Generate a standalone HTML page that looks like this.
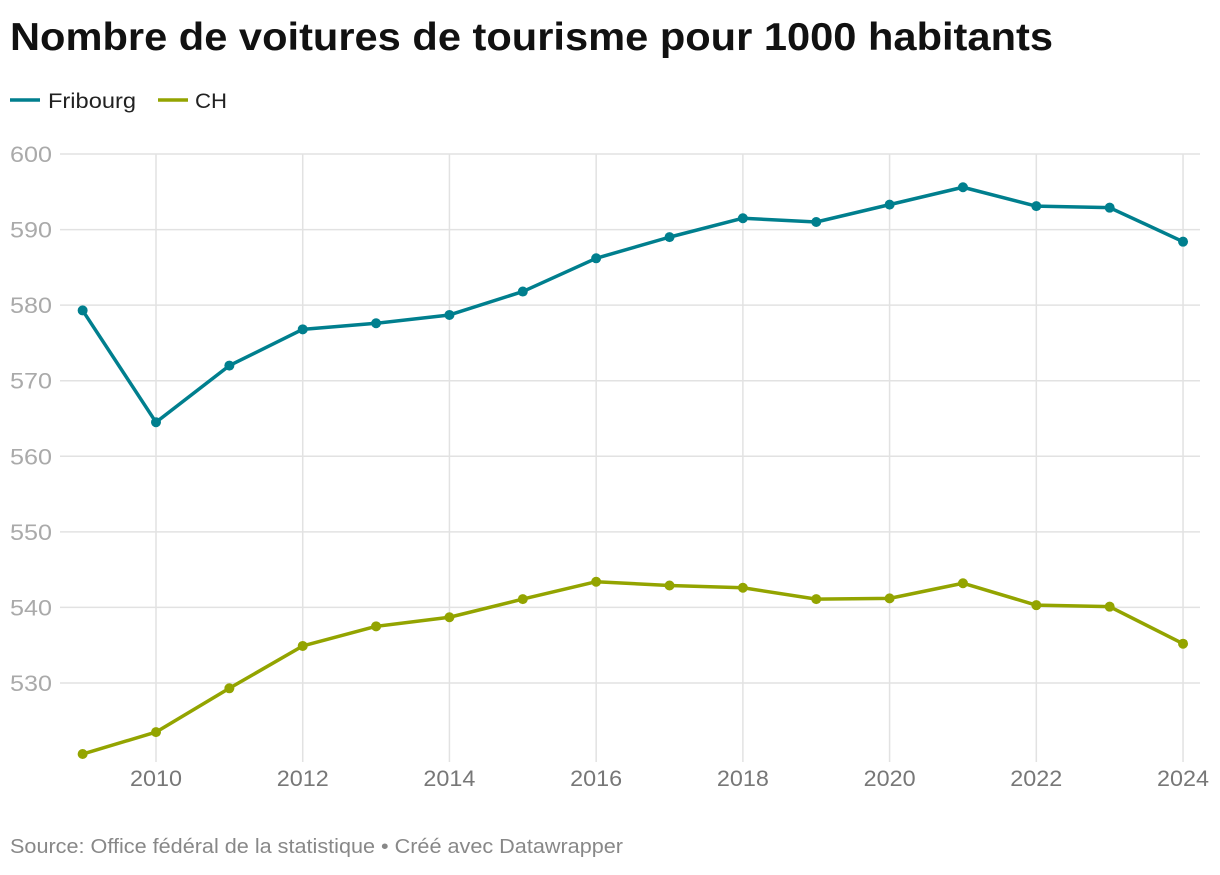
<!DOCTYPE html>
<html><head><meta charset="utf-8"><style>
body{margin:0;background:#fff;font-family:"Liberation Sans",sans-serif;}
svg text{font-family:"Liberation Sans",sans-serif;}
</style></head><body>
<svg id="chart" width="1220" height="870">
<text x="10" y="50" font-size="39" font-weight="bold" fill="#111" textLength="1043" lengthAdjust="spacingAndGlyphs">Nombre de voitures de tourisme pour 1000 habitants</text>
<g>
<g><line x1="10" y1="100" x2="40" y2="100" stroke="#007f8e" stroke-width="3.5"/><text x="48" y="108" font-size="21" fill="#222" textLength="88" lengthAdjust="spacingAndGlyphs">Fribourg</text></g>
<g><line x1="158" y1="100" x2="188" y2="100" stroke="#93a400" stroke-width="3.5"/><text x="195" y="108" font-size="21" fill="#222" textLength="32" lengthAdjust="spacingAndGlyphs">CH</text></g>
</g>
<g id="grid"></g>
<g id="series"></g>
<text x="10" y="853" font-size="20" fill="#888" textLength="613" lengthAdjust="spacingAndGlyphs">Source: Office fédéral de la statistique • Créé avec Datawrapper</text>
</svg>
<script>
const years=[2009,2010,2011,2012,2013,2014,2015,2016,2017,2018,2019,2020,2021,2022,2023,2024];
const fribourg=[579.3,564.5,572.0,576.8,577.6,578.7,581.8,586.2,589.0,591.5,591.0,593.3,595.6,593.1,592.9,588.4];
const ch=[520.6,523.5,529.3,534.9,537.5,538.7,541.1,543.4,542.9,542.6,541.1,541.2,543.2,540.3,540.1,535.2];
const yTicks=[530,540,550,560,570,580,590,600];
const xTicks=[2010,2012,2014,2016,2018,2020,2022,2024];
const NS="http://www.w3.org/2000/svg";
const x=v=>156+(v-2010)*73.36;
const y=v=>154+(600-v)*7.557;
const grid=document.getElementById('grid');
function mk(tag,attrs,parent){const e=document.createElementNS(NS,tag);for(const k in attrs)e.setAttribute(k,attrs[k]);parent.appendChild(e);return e;}
yTicks.forEach(t=>{
 const l=mk('line',{x1:60,x2:1200,y1:y(t),y2:y(t),stroke:'#e2e2e2','stroke-width':1.5},grid);
 
 
 const tx=mk('text',{x:10,y:y(t)+8,'font-size':22,fill:'#aaa',textLength:42,lengthAdjust:'spacingAndGlyphs'},grid);tx.textContent=t;
 
 
});
xTicks.forEach(t=>{
 const l=mk('line',{x1:x(t),x2:x(t),y1:154,y2:762,stroke:'#e2e2e2','stroke-width':1.5},grid);
 
 
 const tx=mk('text',{x:x(t),y:786,'font-size':22,fill:'#777','text-anchor':'middle',textLength:52,lengthAdjust:'spacingAndGlyphs'},grid);tx.textContent=t;
 
 
});
const sg=document.getElementById('series');
[[fribourg,'#007f8e','fribourg'],[ch,'#93a400','ch']].forEach(([d,c,n])=>{
 const p=mk('polyline',{points:d.map((v,i)=>x(years[i])+','+y(v)).join(' '),fill:'none',stroke:c,'stroke-width':3.5,'stroke-linejoin':'round'},sg);
 
 
 d.forEach((v,i)=>{
  const ci=mk('circle',{cx:x(years[i]),cy:y(v),r:5,fill:c},sg);
  
  
 });
});
</script>
</body></html>
